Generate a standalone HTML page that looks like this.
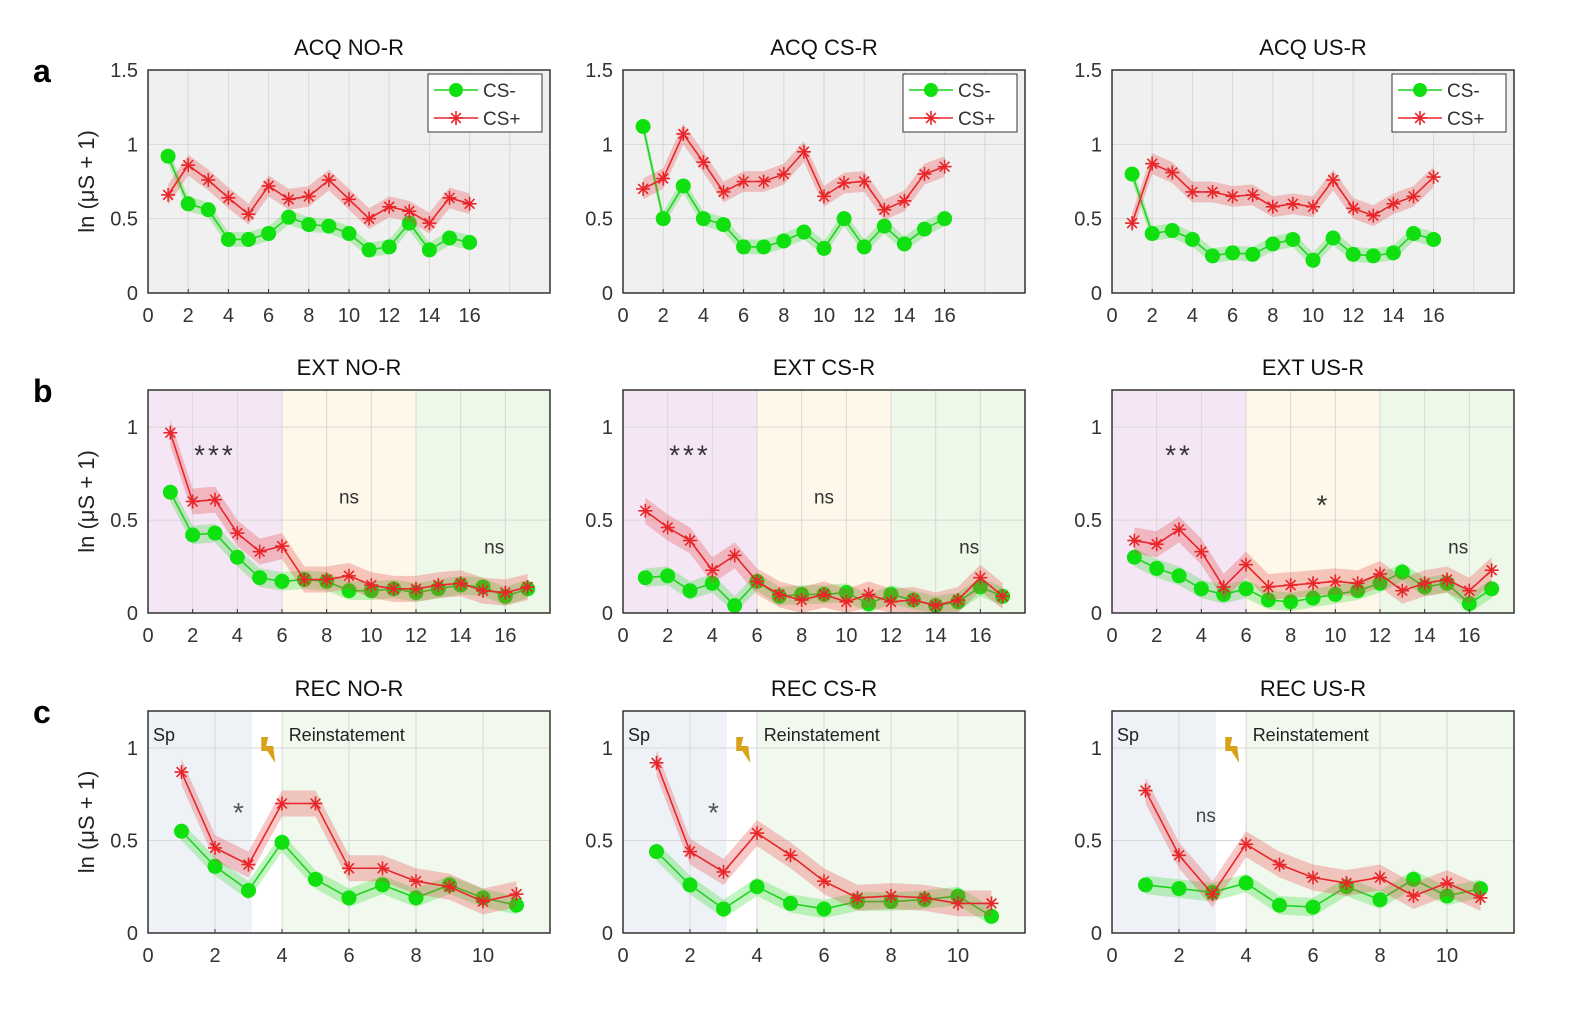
<!DOCTYPE html>
<html><head><meta charset="utf-8"><style>
body{margin:0;background:#fff;}
svg text{font-family:"Liberation Sans",sans-serif;}
</style></head><body>
<svg id="s" width="1574" height="1006" xmlns="http://www.w3.org/2000/svg"></svg>
<script>
const S=document.getElementById('s');let h='';
const lefts=[148,623,1112],W=402;
function star(x,y,c){const r=7,d=r*0.7;return `<g stroke="${c}" stroke-width="1.6"><line x1="${x-r}" y1="${y}" x2="${x+r}" y2="${y}"/><line x1="${x}" y1="${y-r}" x2="${x}" y2="${y+r}"/><line x1="${x-d}" y1="${y-d}" x2="${x+d}" y2="${y+d}"/><line x1="${x-d}" y1="${y+d}" x2="${x+d}" y2="${y-d}"/></g>`;}
const rows=[
 {top:70,H:223,xmax:20,ymax:1.5,xt:[0,2,4,6,8,10,12,14,16],yt:[[0,'0'],[0.5,'0.5'],[1,'1'],[1.5,'1.5']],titles:['ACQ NO-R','ACQ CS-R','ACQ US-R'],
  data:[[[0.92,0.6,0.56,0.36,0.36,0.4,0.51,0.46,0.45,0.4,0.29,0.31,0.47,0.29,0.37,0.34],[0.66,0.86,0.76,0.64,0.53,0.72,0.63,0.65,0.76,0.63,0.5,0.58,0.55,0.47,0.64,0.6]],
   [[1.12,0.5,0.72,0.5,0.46,0.31,0.31,0.35,0.41,0.3,0.5,0.31,0.45,0.33,0.43,0.5],[0.7,0.77,1.07,0.88,0.68,0.75,0.75,0.8,0.95,0.65,0.74,0.75,0.56,0.62,0.8,0.85]],
   [[0.8,0.4,0.42,0.36,0.25,0.27,0.26,0.33,0.36,0.22,0.37,0.26,0.25,0.27,0.4,0.36],[0.47,0.87,0.81,0.68,0.68,0.65,0.66,0.58,0.6,0.58,0.76,0.57,0.52,0.6,0.65,0.78]]]},
 {top:390,H:223,xmax:18,ymax:1.2,xt:[0,2,4,6,8,10,12,14,16],yt:[[0,'0'],[0.5,'0.5'],[1,'1']],titles:['EXT NO-R','EXT CS-R','EXT US-R'],
  data:[[[0.65,0.42,0.43,0.3,0.19,0.17,0.18,0.17,0.12,0.12,0.13,0.11,0.13,0.15,0.14,0.09,0.13],[0.97,0.6,0.61,0.43,0.33,0.36,0.18,0.18,0.2,0.15,0.13,0.13,0.15,0.16,0.12,0.11,0.14]],
   [[0.19,0.2,0.12,0.16,0.04,0.17,0.09,0.1,0.1,0.11,0.05,0.1,0.07,0.04,0.06,0.14,0.09],[0.55,0.46,0.39,0.23,0.31,0.17,0.1,0.07,0.1,0.06,0.1,0.06,0.07,0.04,0.07,0.19,0.09]],
   [[0.3,0.24,0.2,0.13,0.1,0.13,0.07,0.06,0.08,0.1,0.12,0.16,0.22,0.14,0.16,0.05,0.13],[0.39,0.37,0.45,0.33,0.14,0.26,0.14,0.15,0.16,0.17,0.16,0.21,0.12,0.16,0.18,0.12,0.23]]]},
 {top:711,H:222,xmax:12,ymax:1.2,xt:[0,2,4,6,8,10],yt:[[0,'0'],[0.5,'0.5'],[1,'1']],titles:['REC NO-R','REC CS-R','REC US-R'],
  data:[[[0.55,0.36,0.23,0.49,0.29,0.19,0.26,0.19,0.26,0.19,0.15],[0.87,0.46,0.37,0.7,0.7,0.35,0.35,0.28,0.25,0.17,0.21]],
   [[0.44,0.26,0.13,0.25,0.16,0.13,0.17,0.17,0.18,0.2,0.09],[0.92,0.44,0.33,0.54,0.42,0.28,0.19,0.2,0.19,0.16,0.16]],
   [[0.26,0.24,0.22,0.27,0.15,0.14,0.25,0.18,0.29,0.2,0.24],[0.77,0.42,0.21,0.48,0.37,0.3,0.27,0.3,0.2,0.27,0.19]]]}
];
const letters=['a','b','c'];
rows.forEach((r,ri)=>{
 h+=`<text x="33" y="${r.top+12}" font-size="32" font-weight="bold">${letters[ri]}</text>`;
 lefts.forEach((L,ci)=>{
  const X=v=>L+v/r.xmax*W, Y=v=>r.top+r.H-v/r.ymax*r.H;
  if(ri==0) h+=`<rect x="${L}" y="${r.top}" width="${W}" height="${r.H}" fill="#f0f0f0"/>`;
  if(ri==1){h+=`<rect x="${X(0)}" y="${r.top}" width="${X(6)-X(0)}" height="${r.H}" fill="#f4e6f4"/><rect x="${X(6)}" y="${r.top}" width="${X(12)-X(6)}" height="${r.H}" fill="#fdf8ea"/><rect x="${X(12)}" y="${r.top}" width="${X(18)-X(12)}" height="${r.H}" fill="#eef8e9"/>`;}
  if(ri==2){h+=`<rect x="${X(0)}" y="${r.top}" width="${X(3.1)-X(0)}" height="${r.H}" fill="#eef1f6"/><rect x="${X(4)}" y="${r.top}" width="${X(12)-X(4)}" height="${r.H}" fill="#f1f9ee"/>`;}
  for(let g=2;g<r.xmax;g+=2) h+=`<line x1="${X(g)}" y1="${r.top}" x2="${X(g)}" y2="${r.top+r.H}" stroke="#d8d8d8" stroke-width="1"/>`;
  r.yt.forEach(t=>{ if(t[0]>0&&t[0]<r.ymax) h+=`<line x1="${L}" y1="${Y(t[0])}" x2="${L+W}" y2="${Y(t[0])}" stroke="#d8d8d8"/>`;});
  r.data[ci].forEach((d,si)=>{
   const col=si?'#e8262a':'#1fd41f', fill=si?'rgba(235,60,60,0.28)':'rgba(40,220,40,0.28)';
   const bw=si?0.07:0.05;
   let up=d.map((v,i)=>`${X(i+1)},${Y(v+bw)}`), dn=d.map((v,i)=>`${X(i+1)},${Y(Math.max(0,v-bw))}`).reverse();
   h+=`<polygon points="${up.concat(dn).join(' ')}" fill="${fill}"/>`;
   h+=`<polyline points="${d.map((v,i)=>X(i+1)+','+Y(v)).join(' ')}" fill="none" stroke="${col}" stroke-width="1.6"/>`;
   d.forEach((v,i)=>{const x=X(i+1),y=Y(v);
    if(si==0) h+=`<circle cx="${x}" cy="${y}" r="7.5" fill="#10e010"/>`;
    else h+=star(x,y,'#e8262a');});
  });
  h+=`<rect x="${L}" y="${r.top}" width="${W}" height="${r.H}" fill="none" stroke="#333" stroke-width="1.5"/>`;
  r.xt.forEach(t=>{h+=`<line x1="${X(t)}" y1="${r.top+r.H}" x2="${X(t)}" y2="${r.top+r.H-4}" stroke="#333"/><text x="${X(t)}" y="${r.top+r.H+29}" font-size="20" fill="#333" text-anchor="middle">${t}</text>`;});
  r.yt.forEach(t=>{h+=`<text x="${L-10}" y="${Y(t[0])+7}" font-size="20" fill="#333" text-anchor="end">${t[1]}</text>`;});
  h+=`<text x="${L+W/2}" y="${r.top-15}" font-size="22" fill="#111" text-anchor="middle">${r.titles[ci]}</text>`;
  if(ci==0) h+=`<text transform="translate(94,${r.top+r.H/2}) rotate(-90)" font-size="22" fill="#222" text-anchor="middle">ln (μS + 1)</text>`;
  if(ri==0){const lx=L+280;h+=`<rect x="${lx}" y="${r.top+4}" width="114" height="58" fill="#fff" stroke="#333"/>
   <line x1="${lx+6}" y1="${r.top+20}" x2="${lx+50}" y2="${r.top+20}" stroke="#1fd41f" stroke-width="1.6"/><circle cx="${lx+28}" cy="${r.top+20}" r="7" fill="#10e010"/><text x="${lx+55}" y="${r.top+27}" font-size="19" fill="#333">CS-</text>
   <line x1="${lx+6}" y1="${r.top+48}" x2="${lx+50}" y2="${r.top+48}" stroke="#e8262a" stroke-width="1.6"/>${star(lx+28,r.top+48,'#e8262a')}<text x="${lx+55}" y="${r.top+55}" font-size="19" fill="#333">CS+</text>`;}
  if(ri==1){const st=['***','***','**'][ci];
   h+=`<text x="${X(3.0)}" y="${Y(0.8)}" font-size="28" fill="#333" text-anchor="middle" letter-spacing="3">${st}</text>`;
   h+=`<text x="${X(9)}" y="${Y(0.59)}" font-size="19" fill="#333" text-anchor="middle">${ci==2?'':'ns'}</text>`;
   if(ci==2) h+=`<text x="${X(9.4)}" y="${Y(0.53)}" font-size="28" fill="#333" text-anchor="middle">*</text>`;
   h+=`<text x="${X(15.5)}" y="${Y(0.32)}" font-size="19" fill="#333" text-anchor="middle">ns</text>`;}
  if(ri==2){h+=`<text x="${L+5}" y="${r.top+30}" font-size="18" fill="#222">Sp</text><text x="${X(4.2)}" y="${r.top+30}" font-size="18" fill="#222">Reinstatement</text>`;
   const lx=X(3.5),ly=r.top+26;h+=`<polygon points="${lx-4},${ly} ${lx+3},${ly} ${lx+1},${ly+9} ${lx+8},${ly+9} ${lx+10},${ly+26} ${lx+2},${ly+14} ${lx-4},${ly+14}" fill="#d9a21b"/>`;
   if(ci<2) h+=`<text x="${X(2.7)}" y="${Y(0.6)}" font-size="28" fill="#555" text-anchor="middle">*</text>`;
   else h+=`<text x="${X(2.8)}" y="${Y(0.6)}" font-size="19" fill="#444" text-anchor="middle">ns</text>`;}
 });
});
S.innerHTML=h;
</script>
</body></html>
